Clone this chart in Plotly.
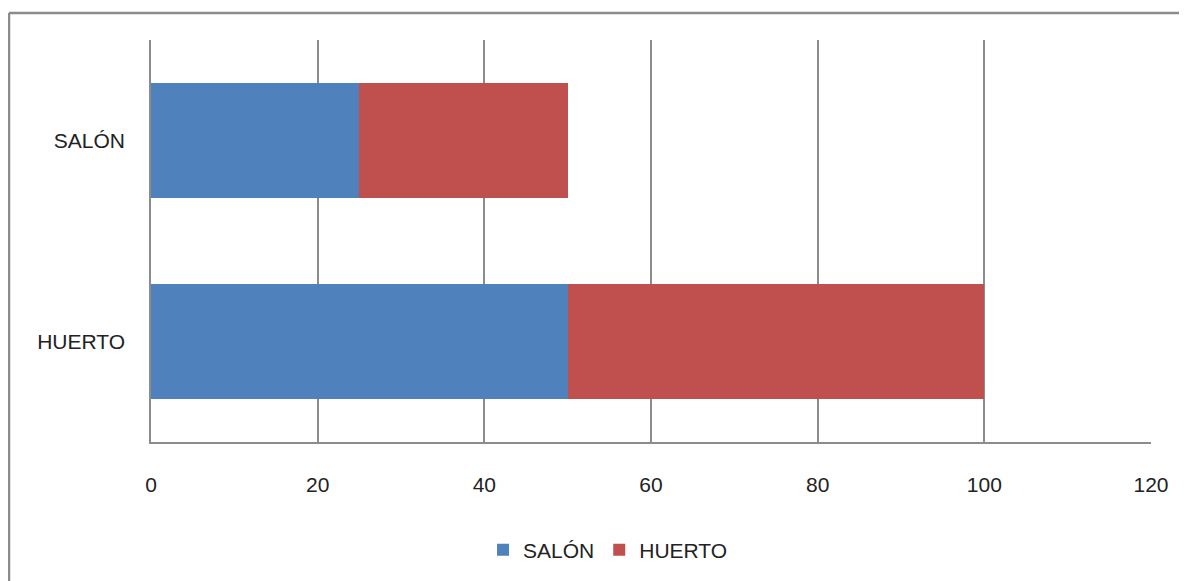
import plotly.graph_objects as go

categories = ["HUERTO", "SALÓN"]
series_names = ["SALÓN", "HUERTO"]
salon_values = [50, 25]
huerto_values = [50, 25]
x_ticks = [0, 20, 40, 60, 80, 100, 120]

colors = ["#4F81BD", "#C0504D"]
FONT = "Liberation Sans, Arial, sans-serif"

fig = go.Figure()
for name, vals, col in zip(series_names, [salon_values, huerto_values], colors):
    fig.add_trace(go.Bar(y=categories, x=vals, name=name, orientation="h",
                         marker=dict(color=col, line=dict(width=0))))

OFF = 8  # page body margin
W, H = 1187, 581
L, R, T, B = 143, 44, 32, 147
fig.update_layout(
    width=W, height=H,
    margin=dict(l=L, r=R, t=T, b=B),
    barmode="stack", bargap=0.43,
    plot_bgcolor="white", paper_bgcolor="white",
    font=dict(family=FONT, size=21, color="#222222"),
    showlegend=True,
    legend=dict(orientation="h", xref="container", yref="container",
                x=0.5055, y=0.067, xanchor="center", yanchor="middle",
                font=dict(size=21), itemwidth=30, traceorder="normal"),
    xaxis=dict(range=[0, 120], tickvals=x_ticks, showgrid=True,
               gridcolor="#8C8C8C", gridwidth=1.5, zeroline=False,
               showline=True, linecolor="#8C8C8C", linewidth=1.5,
               ticks="", ticklabelstandoff=23),
    yaxis=dict(showgrid=False, showline=True, linecolor="#8C8C8C",
               linewidth=1.5, ticks="", ticklabelstandoff=20,
               categoryorder="array", categoryarray=categories),
)

pw, ph = W - L - R, H - T - B
def px_x(p):
    return (p - OFF - L) / pw
def px_y(p):
    return (H - B - (p - OFF)) / ph

fig.add_shape(type="line", xref="paper", yref="paper",
              x0=px_x(9), x1=px_x(1210), y0=px_y(13), y1=px_y(13),
              line=dict(color="#8C8C8C", width=2.5))
fig.add_shape(type="line", xref="paper", yref="paper",
              x0=px_x(9), x1=px_x(9), y0=px_y(13), y1=px_y(620),
              line=dict(color="#8C8C8C", width=2.5))

fig.write_html("out.html")
